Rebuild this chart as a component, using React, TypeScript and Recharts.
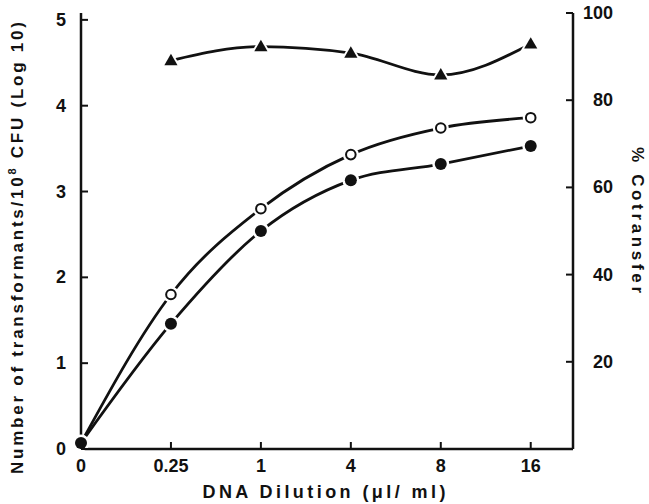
import React from "react";
import { ComposedChart, Line, XAxis, YAxis } from "recharts";

// DNA dilution categories (evenly spaced on the axis)
const dilutionLabels = ["0", "0.25", "1", "4", "8", "16"];
const dilutionIndex = [0, 1, 2, 3, 4, 5];

// log10 transformants per 10^8 CFU
const openCircles = [0.07, 1.8, 2.8, 3.43, 3.74, 3.86];
const filledCircles = [0.07, 1.46, 2.54, 3.13, 3.32, 3.53];

// % cotransfer (right axis)
const cotransfer = [null, 89.1, 92.3, 90.8, 85.8, 92.9];

const leftTicks = [0, 1, 2, 3, 4, 5];
const rightTicks = [20, 40, 60, 80, 100];

const data = dilutionIndex.map((x, i) => ({
  x,
  open: openCircles[i],
  filled: filledCircles[i],
  cot: cotransfer[i],
}));

const FONT = "'Liberation Sans', Arial, sans-serif";
const INK = "#111";

const LeftTick = (props: any) => {
  const { x, y, payload } = props;
  return (
    <g>
      <line x1={x + 15} x2={x + 22} y1={y} y2={y} stroke={INK} strokeWidth={2} />
      <text x={x} y={y + 6} textAnchor="end" fontFamily={FONT} fontWeight="bold" fontSize={18} fill={INK}>
        {payload.value}
      </text>
    </g>
  );
};

const RightTick = (props: any) => {
  const { x, y, payload } = props;
  return (
    <g>
      <line x1={x - 8} x2={x - 15} y1={y} y2={y} stroke={INK} strokeWidth={2} />
      <text x={x + 32} y={y + 6} textAnchor="end" fontFamily={FONT} fontWeight="bold" fontSize={18} fill={INK}>
        {payload.value}
      </text>
    </g>
  );
};

const BottomTick = (props: any) => {
  const { x, y, payload } = props;
  return (
    <g>
      <line x1={x} x2={x} y1={y - 10} y2={y - 17} stroke={INK} strokeWidth={2} />
      <text x={x} y={y + 13} textAnchor="middle" fontFamily={FONT} fontWeight="bold" fontSize={18} fill={INK}>
        {dilutionLabels[payload.value]}
      </text>
    </g>
  );
};

const OpenDot = (props: any) => {
  const { cx, cy, index } = props;
  if (cx == null || cy == null) return <g key={`o-${index}`} />;
  return (
    <g key={`o-${index}`}>
      <circle cx={cx} cy={cy} r={8} fill="#fff" />
      <circle cx={cx} cy={cy} r={4.8} fill="#fff" stroke={INK} strokeWidth={2} />
    </g>
  );
};

const FilledDot = (props: any) => {
  const { cx, cy, index } = props;
  if (cx == null || cy == null) return <g key={`f-${index}`} />;
  return (
    <g key={`f-${index}`}>
      <circle cx={cx} cy={cy} r={8.5} fill="#fff" />
      <circle cx={cx} cy={cy} r={6} fill={INK} />
    </g>
  );
};

const TriangleDot = (props: any) => {
  const { cx, cy, index } = props;
  if (cx == null || cy == null) return <g key={`t-${index}`} />;
  const tri = (s: number) =>
    `${cx},${cy - s * 0.62} ${cx - s * 0.6},${cy + s * 0.42} ${cx + s * 0.6},${cy + s * 0.42}`;
  return (
    <g key={`t-${index}`}>
      <polygon points={tri(17)} fill="#fff" />
      <polygon points={tri(11)} fill={INK} />
    </g>
  );
};

const LeftTitle = () => (
  <text
    transform="translate(23,248) rotate(-90)"
    textAnchor="middle"
    fontFamily={FONT}
    fontWeight="bold"
    fontSize={17}
    fill={INK}
    textLength={452}
    lengthAdjust="spacing"
  >
    Number of transformants/10
    <tspan dy={-7} fontSize={11}>8</tspan>
    <tspan dy={7}> CFU (Log 10)</tspan>
  </text>
);

const RightTitle = () => (
  <text
    transform="translate(632,220) rotate(90)"
    textAnchor="middle"
    fontFamily={FONT}
    fontWeight="bold"
    fontSize={17}
    fill={INK}
    textLength={146}
    lengthAdjust="spacing"
  >
    % Cotransfer
  </text>
);

const BottomTitle = () => (
  <text
    x={324}
    y={498}
    textAnchor="middle"
    fontFamily={FONT}
    fontWeight="bold"
    fontSize={18}
    fill={INK}
    textLength={243}
    lengthAdjust="spacing"
  >
    DNA Dilution (μl/ ml)
  </text>
);

const App: React.FC = () => {
  return (
    <div style={{ position: "absolute", left: 0, top: 0, background: "#fff" }}>
      <ComposedChart width={649} height={504} data={data} margin={{ top: 13, right: 0, bottom: 0, left: 0 }}>
        <XAxis
          dataKey="x"
          type="number"
          domain={[0, 5.47]}
          ticks={dilutionIndex}
          tickSize={0}
          tickMargin={10}
          tick={<BottomTick />}
          axisLine={{ stroke: INK, strokeWidth: 2.5 }}
          height={55}
          label={<BottomTitle />}
        />
        <YAxis
          yAxisId="left"
          domain={[0, 5.08]}
          ticks={leftTicks}
          tickSize={0}
          tickMargin={15}
          tick={<LeftTick />}
          axisLine={{ stroke: INK, strokeWidth: 2.5 }}
          width={81}
          label={<LeftTitle />}
        />
        <YAxis
          yAxisId="right"
          orientation="right"
          domain={[0, 100]}
          ticks={rightTicks}
          tickSize={0}
          tickMargin={8}
          tick={<RightTick />}
          axisLine={{ stroke: INK, strokeWidth: 2.5 }}
          width={76}
          label={<RightTitle />}
        />
        <Line
          yAxisId="right"
          type="monotone"
          dataKey="cot"
          stroke={INK}
          strokeWidth={2.8}
          dot={TriangleDot}
          isAnimationActive={false}
        />
        <Line
          yAxisId="left"
          type="monotone"
          dataKey="open"
          stroke={INK}
          strokeWidth={2.8}
          dot={OpenDot}
          isAnimationActive={false}
        />
        <Line
          yAxisId="left"
          type="monotone"
          dataKey="filled"
          stroke={INK}
          strokeWidth={2.8}
          dot={FilledDot}
          isAnimationActive={false}
        />
      </ComposedChart>
    </div>
  );
};

export default App;
